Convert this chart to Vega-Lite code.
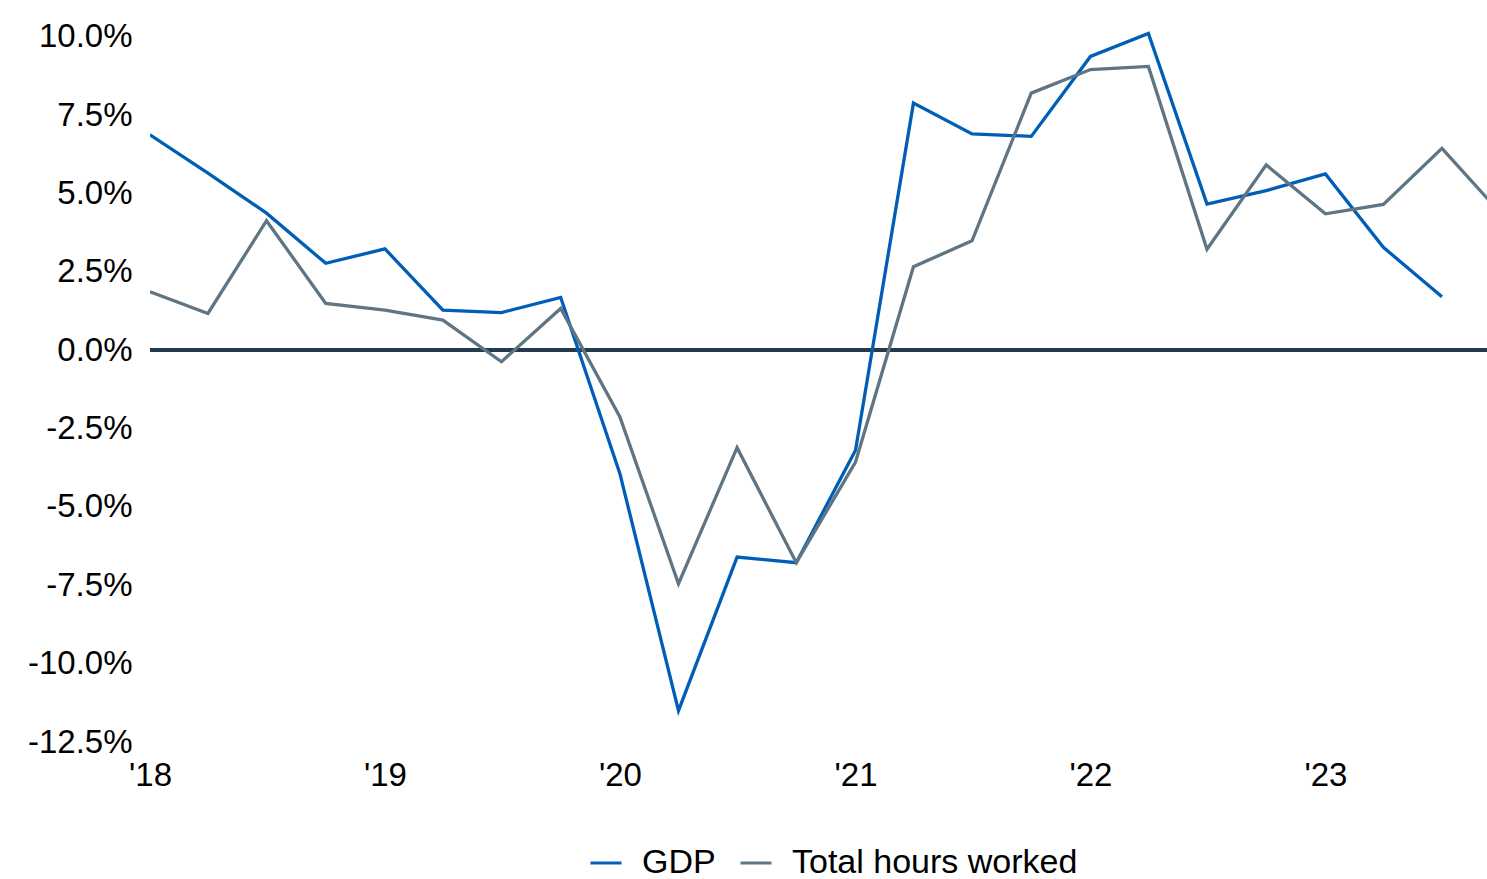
{
  "$schema": "https://vega.github.io/schema/vega-lite/v6.json",
  "autosize": "none",
  "width": 1337,
  "height": 721,
  "padding": {"left": 150, "top": 21, "right": 0, "bottom": 137},
  "background": "white",
  "config": {
    "view": {"stroke": null},
    "font": "Liberation Sans",
    "axis": {
      "labelFont": "Liberation Sans",
      "labelFontSize": 33,
      "labelColor": "#000000",
      "grid": false,
      "domain": false,
      "ticks": false,
      "title": null,
      "labelFlush": false,
      "labelOverlap": false
    },
    "legend": {
      "labelFont": "Liberation Sans",
      "labelFontSize": 34,
      "labelColor": "#000000",
      "labelLimit": 0
    }
  },
  "data": {
    "values": [
      {"date": "2018/01/01", "series": "GDP", "value": 6.87},
      {"date": "2018/04/01", "series": "GDP", "value": 5.65},
      {"date": "2018/07/01", "series": "GDP", "value": 4.37},
      {"date": "2018/10/01", "series": "GDP", "value": 2.77},
      {"date": "2019/01/01", "series": "GDP", "value": 3.23},
      {"date": "2019/04/01", "series": "GDP", "value": 1.28},
      {"date": "2019/07/01", "series": "GDP", "value": 1.2},
      {"date": "2019/10/01", "series": "GDP", "value": 1.68},
      {"date": "2020/01/01", "series": "GDP", "value": -3.94},
      {"date": "2020/04/01", "series": "GDP", "value": -11.5},
      {"date": "2020/07/01", "series": "GDP", "value": -6.6},
      {"date": "2020/10/01", "series": "GDP", "value": -6.78},
      {"date": "2021/01/01", "series": "GDP", "value": -3.19},
      {"date": "2021/04/01", "series": "GDP", "value": 7.88},
      {"date": "2021/07/01", "series": "GDP", "value": 6.9},
      {"date": "2021/10/01", "series": "GDP", "value": 6.82},
      {"date": "2022/01/01", "series": "GDP", "value": 9.37},
      {"date": "2022/04/01", "series": "GDP", "value": 10.1},
      {"date": "2022/07/01", "series": "GDP", "value": 4.66},
      {"date": "2022/10/01", "series": "GDP", "value": 5.09},
      {"date": "2023/01/01", "series": "GDP", "value": 5.62},
      {"date": "2023/04/01", "series": "GDP", "value": 3.28},
      {"date": "2023/07/01", "series": "GDP", "value": 1.7},
      {"date": "2018/01/01", "series": "Total hours worked", "value": 1.86},
      {"date": "2018/04/01", "series": "Total hours worked", "value": 1.17},
      {"date": "2018/07/01", "series": "Total hours worked", "value": 4.13},
      {"date": "2018/10/01", "series": "Total hours worked", "value": 1.49},
      {"date": "2019/01/01", "series": "Total hours worked", "value": 1.28},
      {"date": "2019/04/01", "series": "Total hours worked", "value": 0.96},
      {"date": "2019/07/01", "series": "Total hours worked", "value": -0.37},
      {"date": "2019/10/01", "series": "Total hours worked", "value": 1.33},
      {"date": "2020/01/01", "series": "Total hours worked", "value": -2.13},
      {"date": "2020/04/01", "series": "Total hours worked", "value": -7.45},
      {"date": "2020/07/01", "series": "Total hours worked", "value": -3.11},
      {"date": "2020/10/01", "series": "Total hours worked", "value": -6.78},
      {"date": "2021/01/01", "series": "Total hours worked", "value": -3.57},
      {"date": "2021/04/01", "series": "Total hours worked", "value": 2.66},
      {"date": "2021/07/01", "series": "Total hours worked", "value": 3.49},
      {"date": "2021/10/01", "series": "Total hours worked", "value": 8.2},
      {"date": "2022/01/01", "series": "Total hours worked", "value": 8.95},
      {"date": "2022/04/01", "series": "Total hours worked", "value": 9.05},
      {"date": "2022/07/01", "series": "Total hours worked", "value": 3.22},
      {"date": "2022/10/01", "series": "Total hours worked", "value": 5.91},
      {"date": "2023/01/01", "series": "Total hours worked", "value": 4.35},
      {"date": "2023/04/01", "series": "Total hours worked", "value": 4.65},
      {"date": "2023/07/01", "series": "Total hours worked", "value": 6.44},
      {"date": "2023/10/01", "series": "Total hours worked", "value": 4.35}
    ]
  },
  "layer": [
    {
      "mark": {"type": "rule", "color": "#263a4e", "strokeWidth": 3},
      "encoding": {"y": {"datum": 0, "type": "quantitative"}}
    },
    {
      "mark": {"type": "line", "strokeWidth": 3.3, "clip": true},
      "encoding": {
        "x": {
          "field": "date",
          "type": "temporal",
          "scale": {
            "domain": [
              {"year": 2018, "month": 1, "date": 1},
              {"year": 2023, "month": 9, "date": 9}
            ],
            "nice": false
          },
          "axis": {
            "format": "'%y",
            "tickCount": {"interval": "year", "step": 1},
            "labelPadding": 17,
            "labelAlign": "center"
          }
        },
        "y": {
          "field": "value",
          "type": "quantitative",
          "scale": {"domain": [-12.5, 10.5], "nice": false, "zero": false},
          "axis": {
            "values": [-12.5, -10, -7.5, -5, -2.5, 0, 2.5, 5, 7.5, 10],
            "labelExpr": "(datum.value < 0 ? '-' : '') + format(abs(datum.value), '.1f') + '%'",
            "labelPadding": 18
          }
        },
        "color": {
          "field": "series",
          "type": "nominal",
          "scale": {
            "domain": ["GDP", "Total hours worked"],
            "range": ["#005eb8", "#5f7584"]
          },
          "legend": {
            "title": null,
            "orient": "none",
            "direction": "horizontal",
            "legendX": 439,
            "legendY": 825,
            "symbolType": "stroke",
            "symbolSize": 961,
            "symbolStrokeWidth": 3,
            "labelOffset": 19,
            "columnPadding": 18
          }
        }
      }
    }
  ]
}
